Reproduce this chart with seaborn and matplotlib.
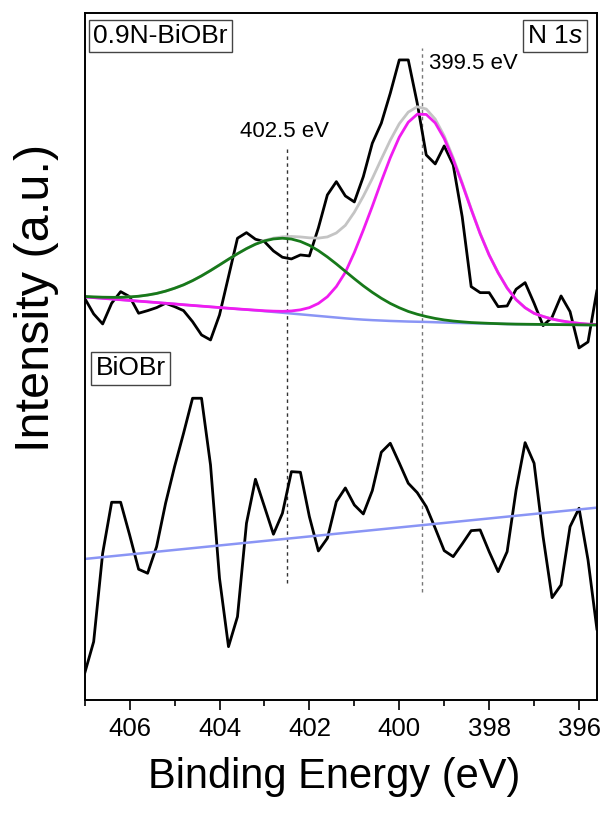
import matplotlib
matplotlib.use('Agg')
import matplotlib.pyplot as plt
import seaborn as sns
from matplotlib.ticker import MultipleLocator

# binding energy grid (eV), 0.2 eV step
energy = [407.0, 406.8, 406.6, 406.4, 406.2, 406.0, 405.8, 405.6, 405.4, 405.2,
          405.0, 404.8, 404.6, 404.4, 404.2, 404.0, 403.8, 403.6, 403.4, 403.2,
          403.0, 402.8, 402.6, 402.4, 402.2, 402.0, 401.8, 401.6, 401.4, 401.2,
          401.0, 400.8, 400.6, 400.4, 400.2, 400.0, 399.8, 399.6, 399.4, 399.2,
          399.0, 398.8, 398.6, 398.4, 398.2, 398.0, 397.8, 397.6, 397.4, 397.2,
          397.0, 396.8, 396.6, 396.4, 396.2, 396.0, 395.8, 395.6]

# 0.9N-BiOBr raw spectrum (offset, a.u.)
n_biobr = [401.7, 386, 376, 396.7, 408.3, 403.3, 386.7, 389.3, 392.3, 396.7,
           393.3, 389.3, 378.3, 365, 360, 385, 423.3, 461.7, 467.3, 460.7,
           458.3, 449, 442.7, 441, 445, 444, 472, 505, 518.3, 504,
           498, 523.3, 556.7, 576.7, 606.7, 640, 640, 596.7, 545, 536,
           554, 535, 483.3, 413.3, 407.3, 407.3, 393.3, 394, 410.7, 417.3,
           396.7, 374.3, 382.7, 404, 388.3, 352, 358, 410]

# BiOBr raw spectrum (a.u.)
biobr = [26.7, 58.3, 146.7, 197.7, 197.7, 165, 130.7, 126.7, 153.3, 196.7,
         233.3, 266.7, 301.7, 301.7, 235, 121.7, 53.3, 83.3, 176.7, 220.7,
         193.3, 165.7, 186.7, 228.3, 227.7, 183.3, 149, 161.7, 198.3, 212,
         195, 186, 209.3, 247.7, 256.7, 237, 216.7, 207.3, 193.3, 171.7,
         149.3, 143.3, 156, 169.3, 170, 148.3, 128.3, 148.3, 210, 257.3,
         236.7, 163.3, 102.3, 115, 173.3, 191.7, 140, 70]

# background of the 0.9N-BiOBr fit
bg_top = [403.0, 402.3, 401.6, 400.9, 400.2, 399.5, 398.8, 398.1, 397.4, 396.7,
          396.0, 395.2, 394.5, 393.8, 393.1, 392.4, 391.7, 391.0, 390.3, 389.6,
          388.8, 388.0, 387.2, 386.4, 385.6, 384.8, 384.0, 383.2, 382.4, 381.6,
          380.9, 380.3, 379.8, 379.4, 379.0, 378.7, 378.4, 378.2, 378.0, 377.7,
          377.4, 377.1, 376.9, 376.7, 376.5, 376.3, 376.1, 375.9, 375.8, 375.7,
          375.6, 375.5, 375.4, 375.3, 375.2, 375.1, 375.0, 375.0]

# fitted component at 402.5 eV (above background)
peak_4025 = [0.5, 0.7, 1.1, 1.7, 2.4, 3.5, 4.9, 6.8, 9.1, 12.1,
             15.7, 19.9, 24.8, 30.3, 36.3, 42.6, 49.0, 55.2, 61.0, 66.1,
             70.2, 73.0, 74.5, 74.5, 72.9, 69.8, 65.3, 59.8, 53.6, 47.0,
             40.3, 33.8, 27.8, 22.3, 17.5, 13.5, 10.1, 7.5, 5.4, 3.8,
             2.6, 1.8, 1.2, 0.7, 0.5, 0.3, 0.2, 0.1, 0, 0,
             0, 0, 0, 0, 0, 0, 0, 0]

# fitted component at 399.5 eV (above background)
peak_3995 = [0, 0, 0, 0, 0, 0, 0, 0, 0, 0,
             0, 0, 0, 0, 0, 0, 0, 0, 0.1, 0.2,
             0.4, 0.8, 1.4, 2.6, 4.5, 7.5, 12.5, 20.0, 31.0, 46.0,
             66.5, 89.6, 113.8, 139.1, 163.2, 184.0, 199.3, 207.5, 207.5, 199.3,
             184.0, 163.2, 139.1, 113.8, 89.6, 68.5, 51.0, 36.0, 24.5, 16.5,
             11.0, 8.0, 5.5, 3.8, 2.5, 1.5, 0.8, 0.4]

# linear background of BiOBr
bg_bottom_energy = [407.0, 395.6]
bg_bottom = [141.0, 192.3]

# marker lines
peak_centers = [402.5, 399.5]
marker_low = [117, 108]
marker_high = [552, 652]

sns.set_style('ticks')
plt.rcParams['font.family'] = ['Liberation Sans', 'DejaVu Sans']
plt.rcParams['mathtext.fontset'] = 'custom'
plt.rcParams['mathtext.rm'] = 'Liberation Sans'
plt.rcParams['mathtext.it'] = 'Liberation Sans:italic'
plt.rcParams['text.color'] = 'black'
plt.rcParams['axes.labelcolor'] = 'black'
plt.rcParams['xtick.color'] = 'black'
plt.rcParams['xtick.labelcolor'] = 'black'

fig = plt.figure(figsize=(6.11, 8.18), dpi=100)
ax = fig.add_axes([0.1386, 0.1443, 0.8385, 0.8399])

comp_g = [b + p for b, p in zip(bg_top, peak_4025)]
comp_m = [b + p for b, p in zip(bg_top, peak_3995)]
envelope = [b + p1 + p2 for b, p1, p2 in zip(bg_top, peak_4025, peak_3995)]

ax.vlines(peak_centers[0], marker_low[0], marker_high[0], colors='#333333',
          linestyles=(0, (2.5, 2.5)), lw=1.0, zorder=1)
ax.vlines(peak_centers[1], marker_low[1], marker_high[1], colors='#777777',
          linestyles=(0, (2.5, 2.5)), lw=1.0, zorder=1)

sns.lineplot(x=energy, y=n_biobr, color='black', lw=2.0, ax=ax, sort=False, estimator=None)
sns.lineplot(x=energy, y=biobr, color='black', lw=2.0, ax=ax, sort=False, estimator=None)
sns.lineplot(x=energy, y=bg_top, color='#8a95f5', lw=1.8, ax=ax, sort=False, estimator=None)
sns.lineplot(x=energy, y=envelope, color='#c4c4c4', lw=2.0, ax=ax, sort=False, estimator=None)
sns.lineplot(x=energy, y=comp_m, color='#f01cf0', lw=2.0, ax=ax, sort=False, estimator=None)
sns.lineplot(x=energy, y=comp_g, color='#17791a', lw=2.0, ax=ax, sort=False, estimator=None)
sns.lineplot(x=bg_bottom_energy, y=bg_bottom, color='#8a95f5', lw=1.8, ax=ax, sort=False, estimator=None)

ax.text(402.55, 568, '402.5 eV', ha='center', va='center', fontsize=16)
ax.text(399.33, 636, '399.5 eV', ha='left', va='center', fontsize=16)

box = dict(boxstyle='square,pad=0.16', fc='white', ec='#444444', lw=1.0)
ax.text(0.017, 0.984, '0.9N-BiOBr', transform=ax.transAxes, ha='left', va='top',
        fontsize=19, bbox=box)
ax.text(0.972, 0.984, r'N 1$\mathit{s}$', transform=ax.transAxes, ha='right', va='top',
        fontsize=19, bbox=box)
ax.text(0.0215, 0.50, 'BiOBr', transform=ax.transAxes, ha='left', va='top',
        fontsize=19, bbox=box)

ax.set_xlim(407.0, 395.6)
ax.set_ylim(0, 687)
ax.xaxis.set_major_locator(MultipleLocator(2))
ax.xaxis.set_minor_locator(MultipleLocator(1))
ax.set_yticks([])
ax.tick_params(axis='x', which='major', direction='out', length=7, width=1.2,
               labelsize=18.5, pad=5, color='black')
ax.tick_params(axis='x', which='minor', direction='out', length=4, width=1.2, color='black')
for s in ax.spines.values():
    s.set_linewidth(1.4)
    s.set_color('black')

ax.set_xlabel('Binding Energy (eV)', fontsize=30)
ax.xaxis.set_label_coords(0.487, -0.083)
ax.set_ylabel('Intensity (a.u.)', fontsize=35)
ax.yaxis.set_label_coords(-0.05, 0.585)

fig.savefig('out.png', dpi=100)
